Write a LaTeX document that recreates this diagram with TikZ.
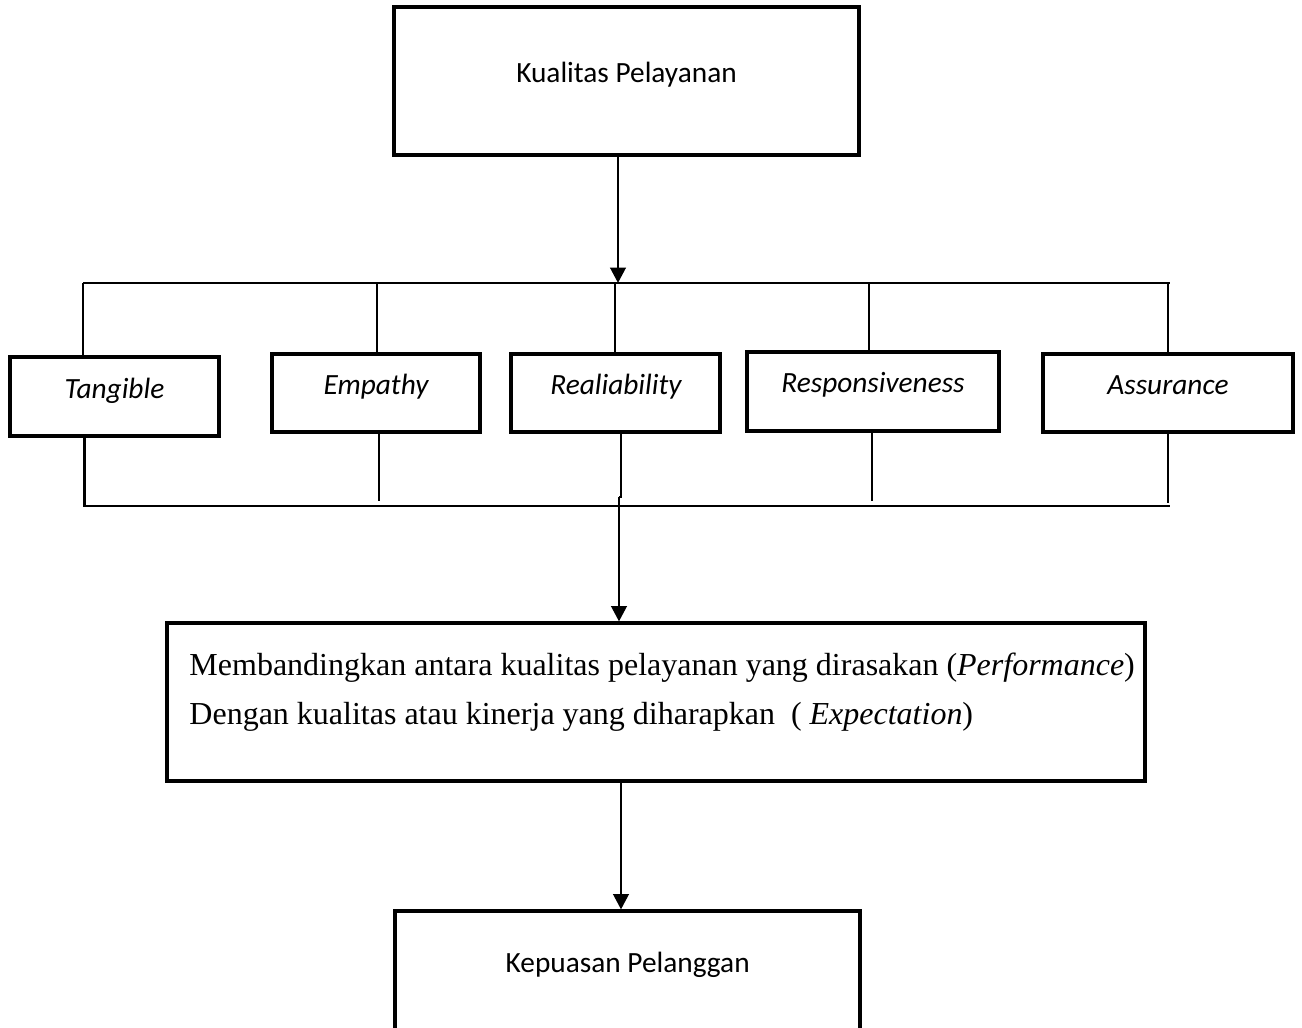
\documentclass[tikz,border=0pt]{standalone}
\usepackage{fontspec}
\setmainfont{Liberation Serif}
\newfontfamily\calfont{Carlito}
\usetikzlibrary{arrows.meta,fit}
\begin{document}
\begin{tikzpicture}[x=0.375pt,y=-0.375pt,line width=1.1pt,
  box/.style={draw,line width=1.15pt,inner sep=0pt},
  cal/.style={font=\calfont\fontsize{11}{13}\selectfont,anchor=base,inner sep=0pt},
  calit/.style={font=\calfont\itshape\fontsize{11}{13}\selectfont,anchor=base,inner sep=0pt},
  serif/.style={font=\fontsize{12}{14}\selectfont,anchor=base west,inner sep=0pt},
  arr/.style={-{Triangle[length=5.8pt,width=5.8pt]},line width=1.1pt}]
\useasboundingbox (0,0) rectangle (1302,1028);
% boxes
\node[box,fit={(394,7) (859,155)}] (top) {};
\node[box,fit={(10,357) (219,436)}] (tang) {};
\node[box,fit={(272,354) (480,432)}] (emp) {};
\node[box,fit={(511,354) (720,432)}] (real) {};
\node[box,fit={(747,352) (999,431)}] (resp) {};
\node[box,fit={(1043,354) (1293,432)}] (assu) {};
\node[box,fit={(167,623) (1145,781)}] (mid) {};
\node[box,fit={(395,911) (860,1031)}] (bot) {};
% texts
\node[cal] (toptxt) at (626.5,82) {Kualitas Pelayanan};
\node[calit] (tangtxt) at (114.5,398) {Tangible};
\node[calit] (emptxt) at (376,394.5) {Empathy};
\node[calit] (realtxt) at (616,394.5) {Realiability};
\node[calit] (resptxt) at (873,392.5) {Responsiveness};
\node[calit] (assutxt) at (1168,394.5) {Assurance};
\node[serif] (midtxta) at (188,675) {Membandingkan antara kualitas pelayanan yang dirasakan (\textit{Performance})};
\node[serif] (midtxtb) at (188,724) {Dengan kualitas atau kinerja yang diharapkan\ \ ( \textit{Expectation})};
\node[cal] (bottxt) at (627.7,972) {Kepuasan Pelanggan};
% bus coordinates
\coordinate (tl) at (83,283);
\coordinate (tr) at (1170,283);
\coordinate (bl) at (83,506);
\coordinate (br) at (1170,506);
\coordinate (a1) at (618,283);
\coordinate (s1) at (83,283);
\coordinate (s2) at (377,283);
\coordinate (s3) at (615,283);
\coordinate (s4) at (869,283);
\coordinate (s5) at (1168,283);
\coordinate (u1) at (84.5,506);
\coordinate (u2) at (379,501);
\coordinate (u3) at (621,497);
\coordinate (u4) at (872,501);
\coordinate (u5) at (1168,503);
\coordinate (j3) at (619,497);
% top arrow and bus
\draw[arr] (top.south -| a1) -- (a1);
\draw (tl) -- (tr);
\draw (bl) -- (br);
% upper stubs
\draw (s1) -- (tang.north -| s1);
\draw (s2) -- (emp.north -| s2);
\draw (s3) -- (real.north -| s3);
\draw (s4) -- (resp.north -| s4);
\draw (s5) -- (assu.north -| s5);
% lower stubs
\draw (tang.south -| u1) -- (u1);
\draw (emp.south -| u2) -- (u2);
\draw (real.south -| u3) -- (u3) -- (j3);
\draw (resp.south -| u4) -- (u4);
\draw (assu.south -| u5) -- (u5);
% arrows to lower boxes
\draw[arr] (j3) -- (mid.north -| j3);
\draw[arr] (mid.south -| 621,0) -- (bot.north -| 621,0);
\end{tikzpicture}
\end{document}
